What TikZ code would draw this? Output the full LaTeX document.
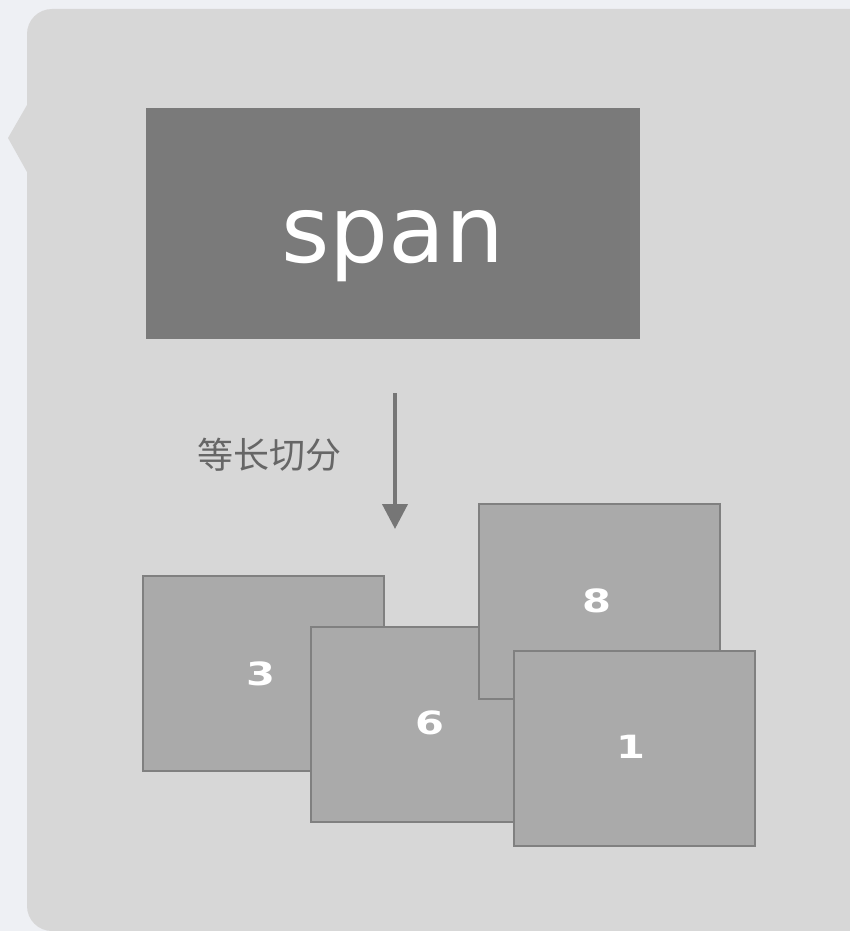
\documentclass[tikz,border=0pt]{standalone}
\usepackage{fontspec}
\setmainfont{DejaVu Sans}
\newfontfamily\cjk{Noto Sans CJK SC}
\usetikzlibrary{arrows.meta}
\definecolor{bgc}{HTML}{EEF0F4}
\definecolor{panelc}{HTML}{D7D7D7}
\definecolor{spanc}{HTML}{7A7A7A}
\definecolor{boxc}{HTML}{AAAAAA}
\definecolor{boxedge}{HTML}{808080}
\definecolor{arrc}{HTML}{767676}
\definecolor{labc}{HTML}{666666}
\tikzset{
  piece/.style={draw=boxedge, fill=boxc, line width=2pt, minimum width=241pt, minimum height=195pt, inner sep=0pt, anchor=north west},
  num/.style={text=white, font=\bfseries\fontsize{32}{32}\selectfont, xscale=1.3},
}
\begin{document}
\begin{tikzpicture}[x=1pt,y=-1pt]
\useasboundingbox (0,0) rectangle (850,931);
\fill[bgc] (0,0) rectangle (850,931);
\fill[panelc] (850,9) -- (52,9) arc[start angle=270,end angle=180,radius=25] -- (27,105) -- (8,138) -- (27,172) -- (27,906) arc[start angle=180,end angle=90,radius=25] -- (850,931) -- cycle;
\node[fill=spanc, minimum width=494pt, minimum height=231pt, inner sep=0pt, anchor=north west] (span) at (146,108) {};
\node[text=white, font=\fontsize{93}{93}\selectfont] (spantxt) at (393,246) {span};
\coordinate (atop) at (395,393);
\coordinate (abot) at (395,529);
\draw[arrc, line width=4pt, -{Triangle[width=25pt,length=25pt]}] (atop) -- (abot);
\node[text=labc, font=\cjk\fontsize{36}{36}\selectfont] (lab) at (269,455) {等长切分};
\node[piece] (b3) at (142,575) {};
\node[piece] (b6) at (310,626) {};
\node[piece] (b8) at (478,503) {};
\node[piece] (b1) at (513,650) {};
\node[num] (n3) at (261,674) {3};
\node[num] (n6) at (430,723) {6};
\node[num] (n8) at (597,601) {8};
\node[num] (n1) at (631,747) {1};
\end{tikzpicture}
\end{document}
